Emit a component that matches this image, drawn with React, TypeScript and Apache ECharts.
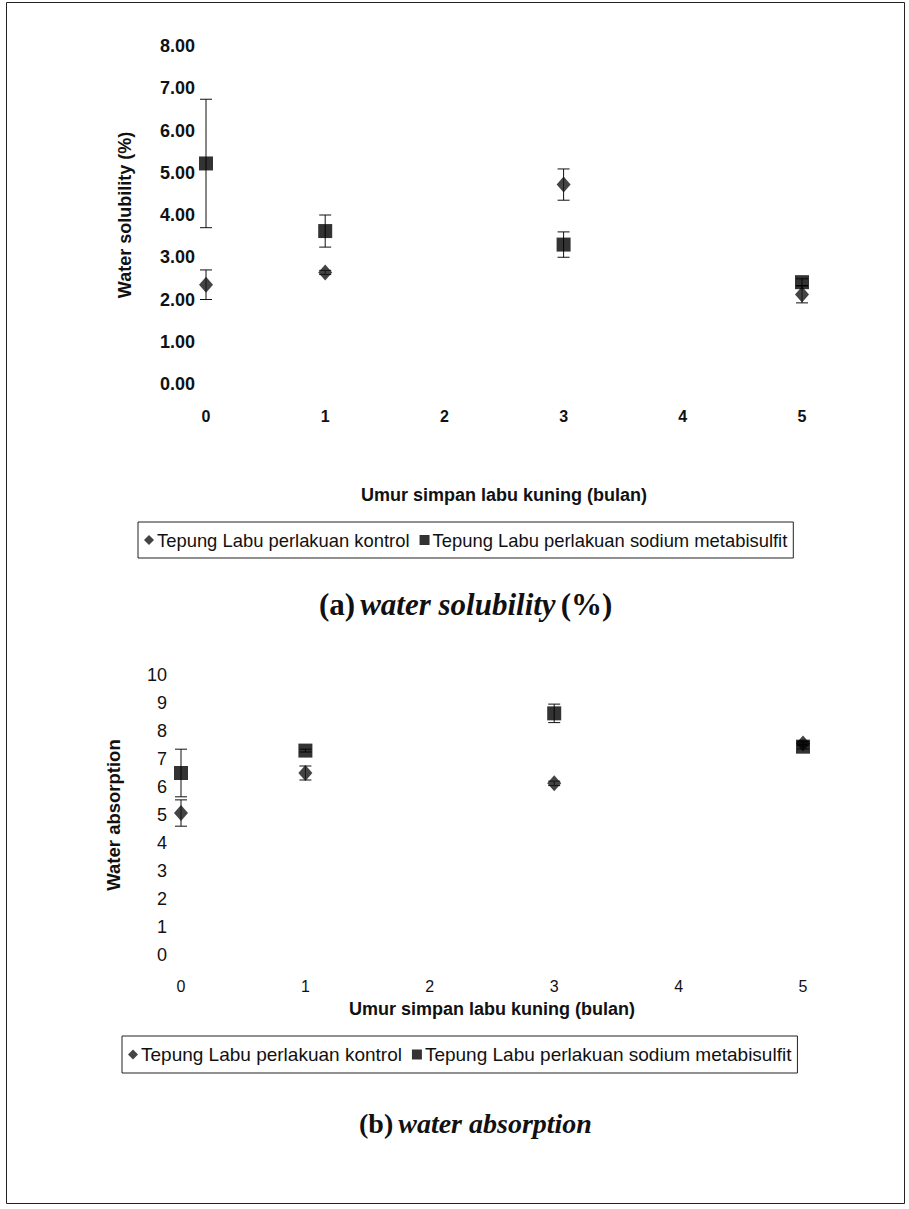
import React, { useEffect, useRef } from "react";
import * as echarts from "echarts";

const months = [0, 1, 3, 5];
const xTicks = [0, 1, 2, 3, 4, 5];
const nameControl = "Tepung Labu perlakuan kontrol";
const nameMeta = "Tepung Labu perlakuan sodium metabisulfit";

const solControl = [2.35, 2.64, 4.72, 2.12];
const solControlErr = [0.35, 0.05, 0.37, 0.2];
const solMeta = [5.22, 3.62, 3.3, 2.41];
const solMetaErr = [1.52, 0.38, 0.3, 0.08];

const absControl = [5.07, 6.5, 6.13, 7.55];
const absControlErr = [0.47, 0.25, 0.08, 0.08];
const absMeta = [6.5, 7.3, 8.63, 7.44];
const absMetaErr = [0.85, 0.05, 0.33, 0.08];

const xAxisTitle = "Umur simpan labu kuning (bulan)";
const yTitleA = "Water solubility (%)";
const yTitleB = "Water absorption";

function pts(vals: number[]) {
  return months.map((m, i) => [m, vals[i]]);
}
function errs(vals: number[], e: number[]) {
  return months.map((m, i) => [m, vals[i] - e[i], vals[i] + e[i]]);
}

const errRender = (params: any, api: any) => {
  const x = api.value(0);
  const lo = api.value(1);
  const hi = api.value(2);
  const pTop = api.coord([x, hi]);
  const pBot = api.coord([x, lo]);
  const hw = 6;
  const style = { stroke: "#111", lineWidth: 1 };
  return {
    type: "group",
    children: [
      { type: "line", shape: { x1: pTop[0], y1: pTop[1], x2: pBot[0], y2: pBot[1] }, style },
      { type: "line", shape: { x1: pTop[0] - hw, y1: pTop[1], x2: pTop[0] + hw, y2: pTop[1] }, style },
      { type: "line", shape: { x1: pBot[0] - hw, y1: pBot[1], x2: pBot[0] + hw, y2: pBot[1] }, style },
    ],
  };
};

export default function App() {
  const ref = useRef<HTMLDivElement>(null);
  useEffect(() => {
    document.body.style.margin = "0";
    const chart = echarts.init(ref.current!, null, { renderer: "svg" });
    const axisFont = "Liberation Sans, Arial, sans-serif";
    const serif = "Liberation Serif, Times New Roman, serif";
    const xAxisBase = (bold: boolean, margin: number, nameGap: number) => ({
      type: "value",
      min: 0,
      max: 5,
      interval: 1,
      axisLine: { show: false },
      axisTick: { show: false },
      splitLine: { show: false },
      axisLabel: {
        margin,
        fontSize: 16,
        fontWeight: bold ? "bold" : "normal",
        color: "#111",
        fontFamily: axisFont,
        customValues: xTicks,
      },
      name: xAxisTitle,
      nameLocation: "middle",
      nameGap,
      nameTextStyle: { fontSize: 18, fontWeight: "bold", color: "#111", fontFamily: axisFont },
    });
    const legendBase = (left: number, top: number, fs: number) => ({
      left,
      top,
      orient: "horizontal",
      data: [
        { name: nameControl, icon: "diamond" },
        { name: nameMeta, icon: "rect" },
      ],
      itemWidth: 10,
      itemHeight: 10,
      itemGap: 10,
      padding: [9, 6, 9, 6],
      borderColor: "#222",
      borderWidth: 1,
      selectedMode: false,
      textStyle: { fontSize: fs, color: "#111", fontFamily: axisFont, padding: [0, 0, 0, -2] },
    });
    const yLabelStyle = (bold: boolean, margin: number, fmt?: (v: number) => string) => ({
      margin,
      fontSize: 18,
      fontWeight: bold ? "bold" : "normal",
      color: "#111",
      fontFamily: axisFont,
      ...(fmt ? { formatter: fmt } : {}),
    });
    chart.setOption({
      animation: false,
      backgroundColor: "#fff",
      title: [
        {
          text: "{a|(a)} {b|water solubility} {a|(%)}",
          left: 314,
          top: 584,
          textStyle: {
            rich: {
              a: { fontFamily: serif, fontSize: 31, fontWeight: "bold", color: "#111" },
              b: { fontFamily: serif, fontSize: 31, fontWeight: "bold", fontStyle: "italic", color: "#111" },
            },
          },
        },
        {
          text: "{a|(b)} {b|water absorption}",
          left: 354,
          top: 1104,
          textStyle: {
            rich: {
              a: { fontFamily: serif, fontSize: 28, fontWeight: "bold", color: "#111" },
              b: { fontFamily: serif, fontSize: 28, fontWeight: "bold", fontStyle: "italic", color: "#111" },
            },
          },
        },
      ],
      graphic: [
        {
          type: "rect",
          shape: { x: 6.5, y: 2.5, width: 898, height: 1201 },
          style: { fill: "none", stroke: "#222", lineWidth: 1 },
        },
      ],
      legend: [legendBase(138, 522, 18.4), legendBase(122, 1036, 19)],
      grid: [
        { left: 206, top: 46, width: 596, height: 338 },
        { left: 181, top: 675, width: 622, height: 280 },
      ],
      xAxis: [
        { ...xAxisBase(true, 24, 102), gridIndex: 0 },
        { ...xAxisBase(false, 23, 45), gridIndex: 1 },
      ],
      yAxis: [
        {
          gridIndex: 0,
          type: "value",
          min: 0,
          max: 8,
          interval: 1,
          axisLine: { show: false },
          axisTick: { show: false },
          splitLine: { show: false },
          axisLabel: yLabelStyle(true, 11, (v: number) => v.toFixed(2)),
          name: yTitleA,
          nameLocation: "middle",
          nameRotate: 90,
          nameGap: 72,
          nameTextStyle: { fontSize: 18, fontWeight: "bold", color: "#111", fontFamily: axisFont },
        },
        {
          gridIndex: 1,
          type: "value",
          min: 0,
          max: 10,
          interval: 1,
          axisLine: { show: false },
          axisTick: { show: false },
          splitLine: { show: false },
          axisLabel: yLabelStyle(false, 14),
          name: yTitleB,
          nameLocation: "middle",
          nameRotate: 90,
          nameGap: 58,
          nameTextStyle: { fontSize: 18.5, fontWeight: "bold", color: "#111", fontFamily: axisFont },
        },
      ],
      series: [
        { type: "custom", xAxisIndex: 0, yAxisIndex: 0, renderItem: errRender, data: errs(solControl, solControlErr), encode: { x: 0, y: [1, 2] }, z: 1, silent: true },
        { type: "custom", xAxisIndex: 0, yAxisIndex: 0, renderItem: errRender, data: errs(solMeta, solMetaErr), encode: { x: 0, y: [1, 2] }, z: 1, silent: true },
        { type: "custom", xAxisIndex: 1, yAxisIndex: 1, renderItem: errRender, data: errs(absControl, absControlErr), encode: { x: 0, y: [1, 2] }, z: 1, silent: true },
        { type: "custom", xAxisIndex: 1, yAxisIndex: 1, renderItem: errRender, data: errs(absMeta, absMetaErr), encode: { x: 0, y: [1, 2] }, z: 1, silent: true },
        { name: nameControl, type: "scatter", xAxisIndex: 0, yAxisIndex: 0, symbol: "diamond", symbolSize: [14, 16], itemStyle: { color: "#151515" }, data: pts(solControl), z: 3 },
        { name: nameMeta, type: "scatter", xAxisIndex: 0, yAxisIndex: 0, symbol: "rect", symbolSize: 14, itemStyle: { color: "#000" }, data: pts(solMeta), z: 3 },
        { name: nameControl, type: "scatter", xAxisIndex: 1, yAxisIndex: 1, symbol: "diamond", symbolSize: [14, 16], itemStyle: { color: "#151515" }, data: pts(absControl), z: 3 },
        { name: nameMeta, type: "scatter", xAxisIndex: 1, yAxisIndex: 1, symbol: "rect", symbolSize: 14, itemStyle: { color: "#000" }, data: pts(absMeta), z: 3 },
      ],
    });
    return () => chart.dispose();
  }, []);
  return <div ref={ref} style={{ width: 909, height: 1209 }} />;
}
